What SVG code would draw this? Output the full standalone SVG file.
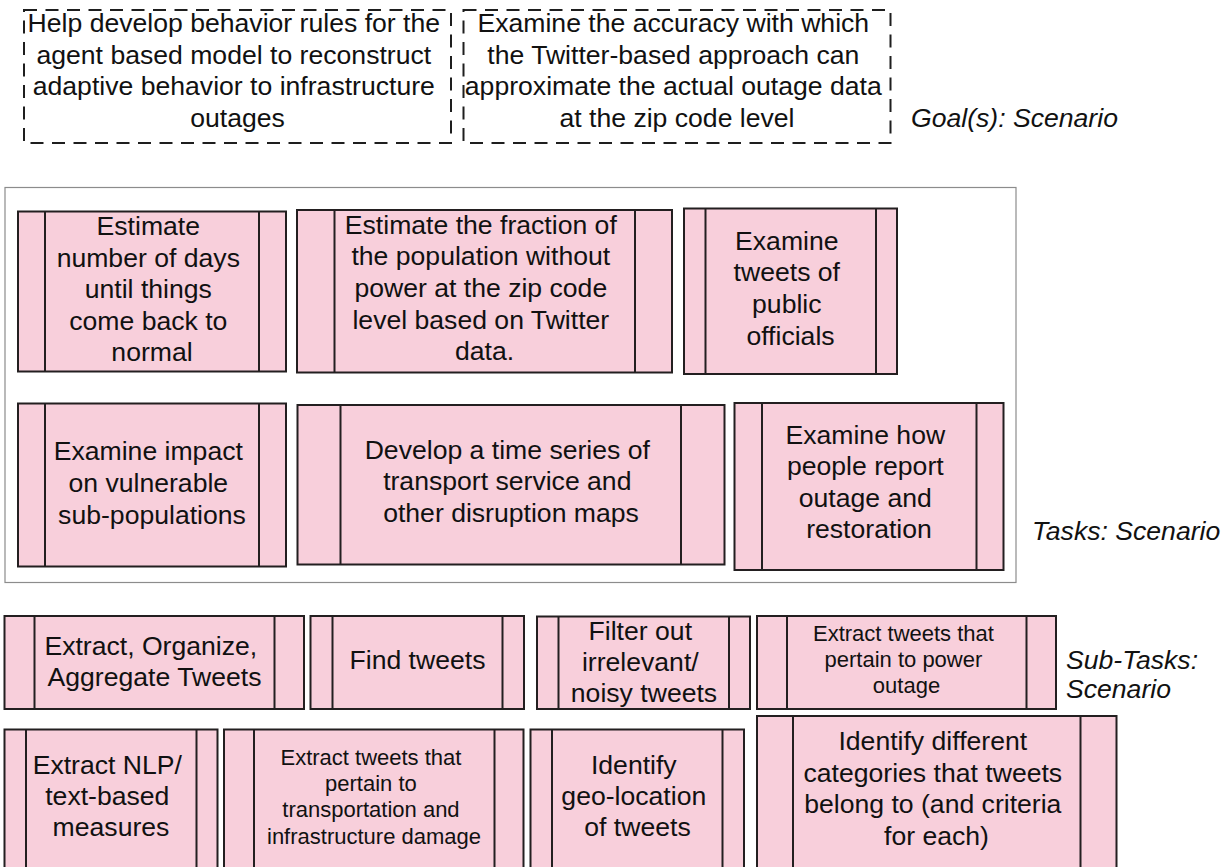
<svg xmlns="http://www.w3.org/2000/svg" width="1229" height="867" viewBox="0 0 1229 867">
  <style>
    .goal { fill: #ffffff; stroke: #1e1e1e; stroke-width: 2; stroke-dasharray: 13 8.5; }
    .frame { fill: none; stroke: #8c8c8c; stroke-width: 1.2; }
    .proc { fill: #f8cfdb; stroke: #231f20; stroke-width: 2; }
    .bar { stroke: #231f20; stroke-width: 2; }
    .t { font-family: "Liberation Sans", Arial, sans-serif; font-size: 26.6px; fill: #111111; text-anchor: middle; }
    .s { font-family: "Liberation Sans", Arial, sans-serif; font-size: 22px; fill: #111111; text-anchor: middle; }
    .lbl { font-family: "Liberation Sans", Arial, sans-serif; font-size: 26.6px; font-style: italic; fill: #111111; }
  </style>
  <rect width="1229" height="867" fill="#ffffff"/>

  <!-- Goals -->
  <g id="goal-behavior-rules">
    <rect class="goal" x="24" y="10" width="427" height="133"/>
    <text class="t">
      <tspan x="237.5" y="32">Help develop behavior rules for the</tspan>
      <tspan x="237.5" y="63.5">agent based model to reconstruct</tspan>
      <tspan x="237.5" y="95">adaptive behavior to infrastructure</tspan>
      <tspan x="237.5" y="126.5">outages</tspan>
    </text>
  </g>
  <g id="goal-accuracy">
    <rect class="goal" x="463.5" y="10" width="427" height="133"/>
    <text class="t">
      <tspan x="677" y="32">Examine the accuracy with which</tspan>
      <tspan x="677" y="63.5">the Twitter-based approach can</tspan>
      <tspan x="677" y="95">approximate the actual outage data</tspan>
      <tspan x="677" y="126.5">at the zip code level</tspan>
    </text>
  </g>
  <text id="label-goals" class="lbl" x="911" y="127">Goal(s): Scenario</text>

  <!-- Tasks -->
  <rect id="tasks-frame" class="frame" x="5" y="187.5" width="1011" height="395"/>

  <g id="task-days-to-normal">
    <rect class="proc" x="18" y="211.5" width="268" height="160"/>
    <line class="bar" x1="45" y1="211.5" x2="45" y2="371.5"/>
    <line class="bar" x1="259" y1="211.5" x2="259" y2="371.5"/>
    <text class="t">
      <tspan x="152" y="235">Estimate</tspan>
      <tspan x="152" y="266.5">number of days</tspan>
      <tspan x="152" y="298">until things</tspan>
      <tspan x="152" y="329.5">come back to</tspan>
      <tspan x="152" y="361">normal</tspan>
    </text>
  </g>

  <g id="task-fraction-without-power">
    <rect class="proc" x="297" y="210" width="375" height="162.5"/>
    <line class="bar" x1="334.5" y1="210" x2="334.5" y2="372.5"/>
    <line class="bar" x1="635" y1="210" x2="635" y2="372.5"/>
    <text class="t">
      <tspan x="484.5" y="233.5">Estimate the fraction of</tspan>
      <tspan x="484.5" y="265">the population without</tspan>
      <tspan x="484.5" y="296.5">power at the zip code</tspan>
      <tspan x="484.5" y="328.5">level based on Twitter</tspan>
      <tspan x="484.5" y="360">data.</tspan>
    </text>
  </g>

  <g id="task-public-officials">
    <rect class="proc" x="684" y="208.5" width="213" height="165.5"/>
    <line class="bar" x1="705.5" y1="208.5" x2="705.5" y2="374"/>
    <line class="bar" x1="876" y1="208.5" x2="876" y2="374"/>
    <text class="t">
      <tspan x="790.5" y="249.5">Examine</tspan>
      <tspan x="790.5" y="281">tweets of</tspan>
      <tspan x="790.5" y="313">public</tspan>
      <tspan x="790.5" y="345">officials</tspan>
    </text>
  </g>

  <g id="task-vulnerable">
    <rect class="proc" x="18" y="403.5" width="268" height="163"/>
    <line class="bar" x1="45" y1="403.5" x2="45" y2="566.5"/>
    <line class="bar" x1="259" y1="403.5" x2="259" y2="566.5"/>
    <text class="t">
      <tspan x="152" y="459.5">Examine impact</tspan>
      <tspan x="152" y="491.5">on vulnerable</tspan>
      <tspan x="152" y="523.5">sub-populations</tspan>
    </text>
  </g>

  <g id="task-time-series">
    <rect class="proc" x="297.5" y="405" width="427" height="159.5"/>
    <line class="bar" x1="340.5" y1="405" x2="340.5" y2="564.5"/>
    <line class="bar" x1="681" y1="405" x2="681" y2="564.5"/>
    <text class="t">
      <tspan x="511" y="458.5">Develop a time series of</tspan>
      <tspan x="511" y="490">transport service and</tspan>
      <tspan x="511" y="521.5">other disruption maps</tspan>
    </text>
  </g>

  <g id="task-report-outage">
    <rect class="proc" x="734.5" y="403" width="269" height="167"/>
    <line class="bar" x1="762" y1="403" x2="762" y2="570"/>
    <line class="bar" x1="976.5" y1="403" x2="976.5" y2="570"/>
    <text class="t">
      <tspan x="869" y="443.5">Examine how</tspan>
      <tspan x="869" y="475">people report</tspan>
      <tspan x="869" y="506.5">outage and</tspan>
      <tspan x="869" y="538">restoration</tspan>
    </text>
  </g>
  <text id="label-tasks" class="lbl" x="1032" y="540">Tasks: Scenario</text>

  <!-- Sub-tasks, first row -->
  <g id="sub-extract-organize">
    <rect class="proc" x="4.5" y="616" width="299.5" height="93"/>
    <line class="bar" x1="34.5" y1="616" x2="34.5" y2="709"/>
    <line class="bar" x1="274.5" y1="616" x2="274.5" y2="709"/>
    <text class="t">
      <tspan x="154.5" y="655">Extract, Organize,</tspan>
      <tspan x="154.5" y="686">Aggregate Tweets</tspan>
    </text>
  </g>

  <g id="sub-find-tweets">
    <rect class="proc" x="310.5" y="616" width="213.5" height="93"/>
    <line class="bar" x1="332.5" y1="616" x2="332.5" y2="709"/>
    <line class="bar" x1="502.5" y1="616" x2="502.5" y2="709"/>
    <text class="t">
      <tspan x="417.5" y="668.5">Find tweets</tspan>
    </text>
  </g>

  <g id="sub-filter-noise">
    <rect class="proc" x="537" y="616.5" width="213" height="92.5"/>
    <line class="bar" x1="558.5" y1="616.5" x2="558.5" y2="709"/>
    <line class="bar" x1="729" y1="616.5" x2="729" y2="709"/>
    <text class="t">
      <tspan x="644" y="640">Filter out</tspan>
      <tspan x="644" y="671">irrelevant/</tspan>
      <tspan x="644" y="702">noisy tweets</tspan>
    </text>
  </g>

  <g id="sub-power-outage-tweets">
    <rect class="proc" x="757" y="616" width="299" height="93"/>
    <line class="bar" x1="787" y1="616" x2="787" y2="709"/>
    <line class="bar" x1="1026.5" y1="616" x2="1026.5" y2="709"/>
    <text class="s">
      <tspan x="906.5" y="641">Extract tweets that</tspan>
      <tspan x="906.5" y="667">pertain to power</tspan>
      <tspan x="906.5" y="693">outage</tspan>
    </text>
  </g>
  <text id="label-subtasks" class="lbl">
    <tspan x="1066" y="669">Sub-Tasks:</tspan>
    <tspan x="1066" y="698">Scenario</tspan>
  </text>

  <!-- Sub-tasks, second row (runs past the lower edge) -->
  <g id="sub-nlp-measures">
    <rect class="proc" x="4.5" y="729.5" width="213" height="160"/>
    <line class="bar" x1="26" y1="729.5" x2="26" y2="889.5"/>
    <line class="bar" x1="196.5" y1="729.5" x2="196.5" y2="889.5"/>
    <text class="t">
      <tspan x="111" y="773.5">Extract NLP/</tspan>
      <tspan x="111" y="804.5">text-based</tspan>
      <tspan x="111" y="835.5">measures</tspan>
    </text>
  </g>

  <g id="sub-transport-damage">
    <rect class="proc" x="224" y="729.5" width="299.5" height="160"/>
    <line class="bar" x1="254" y1="729.5" x2="254" y2="889.5"/>
    <line class="bar" x1="494.5" y1="729.5" x2="494.5" y2="889.5"/>
    <text class="s">
      <tspan x="374" y="764.5">Extract tweets that</tspan>
      <tspan x="374" y="791">pertain to</tspan>
      <tspan x="374" y="817">transportation and</tspan>
      <tspan x="374" y="843.5">infrastructure damage</tspan>
    </text>
  </g>

  <g id="sub-geo-location">
    <rect class="proc" x="530.5" y="729.5" width="213.5" height="160"/>
    <line class="bar" x1="552" y1="729.5" x2="552" y2="889.5"/>
    <line class="bar" x1="722.5" y1="729.5" x2="722.5" y2="889.5"/>
    <text class="t">
      <tspan x="637.5" y="773.5">Identify</tspan>
      <tspan x="637.5" y="804.5">geo-location</tspan>
      <tspan x="637.5" y="835.5">of tweets</tspan>
    </text>
  </g>

  <g id="sub-categories">
    <rect class="proc" x="757" y="716" width="359.5" height="175"/>
    <line class="bar" x1="793" y1="716" x2="793" y2="891"/>
    <line class="bar" x1="1080.5" y1="716" x2="1080.5" y2="891"/>
    <text class="t">
      <tspan x="936.5" y="750">Identify different</tspan>
      <tspan x="936.5" y="781.5">categories that tweets</tspan>
      <tspan x="936.5" y="813">belong to (and criteria</tspan>
      <tspan x="936.5" y="844.5">for each)</tspan>
    </text>
  </g>
</svg>
